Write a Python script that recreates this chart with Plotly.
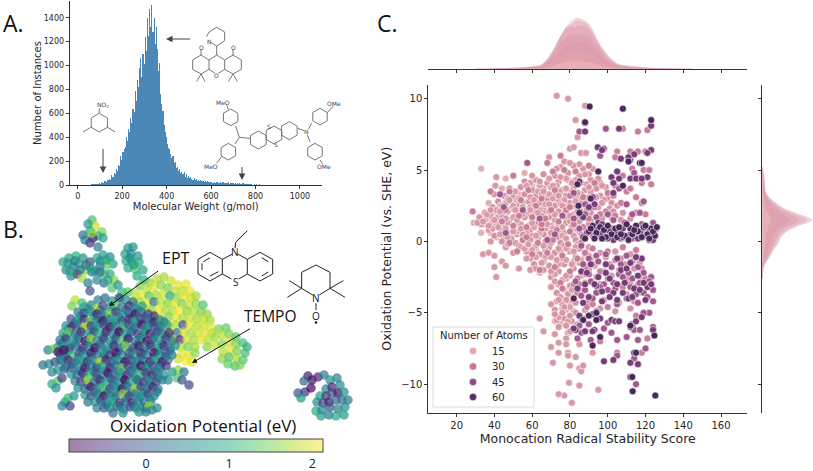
import math
import plotly.graph_objects as go

# ---------- Panel A data ----------
a_counts = [6,7,5,9,8,11,10,14,12,22,18,30,34,25,45,38,52,44,80,70,100,88,135,120,170,160,240,210,280,300,
320,400,370,470,440,560,520,640,610,790,700,880,820,980,1060,900,1100,1010,1240,1120,1400,1250,1470,1320,
1505,1280,1400,1180,1320,1140,950,1020,760,680,620,500,440,400,340,310,300,260,230,240,180,190,140,150,
120,130,100,110,95,105,70,90,60,75,55,65,50,45,55,40,48,36,42,30,38,32,34,28,36,26,30,24,22,28,26,20,
24,18,22,26,18,20,24,16,22,18,14,20,16,22,12,18,14,20,12,16,10,18,12,14,8,12,16,8,10,6,12,7,9,5,8,4,7,3,5,4,3,5,2,4,2,3,2,3,1,2,1,2,1,1,1,1,1,1]
a_xticks = [0,200,400,600,800,1000]
a_yticks = [0,200,400,600,800,1000,1200,1400]

# ---------- Panel B data: map position (page pixels), oxidation potential ----------
b_top = [(92,220,1.2),(95,226,1.9),(90,231,.9),(88,224,.7),(102,232,1.5),(98,236,1.1),(83,235,.2),(85,240,.4),(93,238,-.6),(90,243,-.4),(98,247,.3),(92,233,1.6),(103,238,.8)]
b_upper = [(63,262,.9),(69,258,.8),(76,256,1),(83,258,.6),(90,262,-.2),(66,270,.5),(73,266,.2),(79,264,.9),(86,270,1.5),(92,272,.3),(77,274,-.8),(71,276,.6),(82,278,1.7),(88,283,.4),(97,258,.9),(103,255,.7),(110,257,.5),(113,264,.8),(107,265,1.4),(100,266,.3),(95,271,.6),(104,274,1.1),(110,274,.9),(114,280,1.6),(97,280,.5),(104,283,.2),(112,288,1.3),(118,285,.7),(122,292,1.1),(90,291,-.2),(120,298,1),
(128,248,.7),(133,247,.6),(125,254,.8),(131,254,.5),(138,256,.7),(126,261,.9),(132,262,.7),(139,262,1),(135,269,1.3),(128,268,.9),(143,270,.8),(137,276,.9),(144,280,1),
(68,263,.7),(75,261,.4),(86,265,.1),(70,271,.8),(80,270,.3),(100,261,.6),(106,260,.8),(90,267,.7),(100,272,.2),(108,280,.9),(130,258,.6),(134,265,.8)]
b_green = [(150,283,1.6),(157,279,1.8),(164,277,1.7),(171,281,1.9),(178,285,2),(186,284,2),(140,286,1.5),(147,289,1.8),(154,287,2),(161,285,1.6),(168,288,1.5),(175,291,1.9),(183,291,1.8),(190,291,2),(128,292,1.3),(135,294,1.8),(142,295,2),(149,296,1.3),(156,295,1.7),(163,294,1.9),(170,296,.9),(177,298,1.6),(184,297,2),(191,298,1.9),(196,296,1.7),(133,301,1.9),(140,302,1.7),(147,303,2),(154,302,.2),(161,302,1.8),(168,303,1.6),(175,304,2),(182,304,1.5),(189,305,1.9),(196,304,1.6),(203,305,1.3),(145,309,1.9),(152,310,1.6),(159,309,2),(166,310,1.7),(173,311,1.8),(180,311,2.1),(187,311,1.6),(194,311,1.8),(201,312,1.5),(207,314,1.6),(155,317,1.8),(162,317,1.9),(169,317,1.5),(176,318,2),(183,318,1.7),(190,318,1.9),(197,319,1.7),(204,319,1.9),(210,320,1.7),(162,324,1.7),(169,325,2),(176,325,1.7),(183,325,-.3),(190,325,2),(197,326,1.8),(204,326,1.9),(211,327,2),(170,332,1.8),(177,333,.1),(184,332,1.9),(191,333,1.7),(198,333,1.9),(205,333,2),(212,333,1.8),(219,329,1.5),(226,328,1.4),(173,339,1.7),(180,340,-.6),(187,340,1.9),(194,340,1.7),(201,340,2),(208,340,1.8),(215,337,1.7),(222,335,1.8),(229,334,1.5),(236,337,1.3),(181,347,1.8),(188,347,1.5),(195,347,1.7),(207,347,1.6),(215,345,1.9),(222,344,1.6),(229,342,1.9),(236,344,1.5),(243,343,1.2),(247,347,1),(182,354,2),(189,356,2),(195,353,1.6),(178,359,1.9),(186,361,2.1),(192,362,2),(223,352,1.8),(230,350,2),(237,351,1.5),(245,353,1.2),(222,359,1.6),(229,357,1.3),(236,358,1.7),(243,360,1.3),(228,364,1.4),(235,366,1.3),(240,365,1.5)]
b_main = [(98,300,.4),(105,298,.1),(112,301,.7),(119,298,-.2),(126,300,.5),(133,302,.3),(75,300,1.8),(82,303,1.2),(72,306,1.5),(84,307,.9),(91,305,.3),(97,308,1.7),(103,306,-.3),(110,307,.6),(116,305,1.3),(122,307,.2),(129,306,-.5),(135,308,.4),(142,306,.8),
(78,312,.3),(84,313,-.1),(91,312,.7),(97,314,-.7),(103,313,.3),(110,314,1.6),(116,312,-.4),(122,314,.6),(129,313,.1),(135,314,-.8),(141,312,.2),(148,314,-.3),(154,316,-.5),
(71,319,-.2),(78,320,.6),(84,319,-.6),(90,321,1.4),(97,319,.2),(103,321,-.9),(110,319,.4),(116,320,.8),(122,321,-.2),(129,319,-.6),(135,321,.9),(141,319,-.4),(148,320,.1),(154,322,-.7),(160,320,.5),
(66,326,.5),(72,327,-.7),(78,325,.2),(85,327,1.9),(91,326,-.3),(97,327,.7),(104,325,-.1),(110,327,-.7),(116,326,.4),(123,327,1.1),(129,325,-.2),(135,327,.3),(142,325,-.8),(148,327,.6),(154,326,-.1),(161,327,.2),(167,325,.7),
(63,333,.8),(69,332,1.4),(75,334,.1),(81,332,-.5),(88,334,.6),(94,332,-.1),(100,334,1),(106,332,-.6),(113,334,.2),(119,332,-.9),(125,334,.6),(131,332,.1),(138,334,-.4),(144,332,.5),(150,334,-.7),(157,332,-.2),(163,334,.4),(169,333,-.5),
(60,340,.3),(66,339,-.4),(72,341,.7),(79,339,.1),(85,341,-.8),(91,339,1.7),(97,341,.3),(104,339,-.4),(110,341,.6),(116,339,-.1),(122,341,1.3),(128,339,-.7),(135,341,.1),(141,339,.5),(147,341,-.9),(153,339,.2),(159,341,.6),(166,339,-.3),(172,341,.2),
(58,347,.1),(64,346,.7),(70,348,-.3),(76,346,.3),(83,348,-.6),(89,346,.5),(95,348,-.9),(101,346,.2),(108,348,.7),(114,346,-.5),(120,348,.1),(126,346,1.5),(133,348,-.2),(139,346,-.7),(145,348,.4),(151,346,-.4),(158,348,.8),(164,346,-.6),(170,348,.2),(175,346,.6),
(60,354,-.5),(66,353,.4),(72,355,1.1),(79,353,-.2),(85,355,.6),(91,353,-.8),(98,355,.1),(104,353,.5),(110,355,-.3),(116,353,-.9),(122,355,.4),(129,353,-.1),(135,355,.7),(141,353,-.6),(147,355,.2),(154,353,-.8),(160,355,.5),(166,353,-.1),(172,355,.3),
(62,361,.7),(68,360,-.6),(75,362,.2),(81,360,.8),(87,362,-.4),(93,360,.4),(100,362,1.8),(106,360,-.7),(112,362,.1),(118,360,.6),(125,362,-.9),(131,360,-.2),(137,362,.5),(143,360,.1),(150,362,-.6),(156,360,.9),(162,362,-.8),(168,360,.3),
(66,367,.2),(72,368,-.2),(78,366,.6),(85,368,-.7),(91,366,.3),(97,368,-.1),(103,366,.7),(110,368,-.5),(116,366,.2),(122,368,1.5),(128,366,-.4),(135,368,.3),(141,366,-.8),(147,368,.7),(153,366,-.2),(160,368,.4),(166,366,-.5),
(71,374,.6),(77,375,.1),(83,373,-.6),(89,375,.9),(96,373,-.2),(102,375,.4),(108,373,-.8),(114,375,.1),(121,373,.7),(127,375,-.5),(133,373,.3),(139,375,1.2),(146,373,-.3),(152,375,-.7),(158,373,.3),(164,375,.6),
(75,381,.3),(81,382,-.4),(88,380,1.7),(94,382,.2),(100,380,-.5),(106,382,.6),(113,380,-.1),(119,382,.4),(125,380,-.9),(131,382,.8),(138,380,.1),(144,382,-.4),(150,380,.5),(156,382,-.2),(162,380,.3),
(78,388,.5),(85,389,.1),(91,387,-.7),(97,389,.4),(103,387,1.2),(110,389,-.3),(116,387,.6),(122,389,-.8),(128,387,.2),(135,389,1.7),(141,387,-.3),(147,389,.4),(153,387,-.6),(158,389,.2),
(85,395,.7),(91,396,-.2),(98,394,.3),(104,396,-.9),(110,394,.5),(116,396,.1),(123,394,1.6),(129,396,-.4),(135,394,.3),(141,396,.6),(148,394,-.3),(154,396,.4),
(88,402,.2),(95,402,.7),(101,401,-.2),(107,403,.4),(113,401,.9),(120,403,-.5),(126,401,.3),(132,403,-.7),(138,401,.5),(145,403,.1),(151,401,.6),
(97,408,.4),(104,408,-.1),(110,408,.6),(117,407,.2),(124,409,.5),(130,407,-.2),(136,408,.6),(143,407,.3),(149,406,1.7),(157,408,.5),
(113,413,.2),(123,413,.5),(139,412,.6),(146,412,.3),(152,410,.4)]
b_under = [(88,309,.5),(100,310,.2),(113,310,.6),(126,310,.3),(138,310,.5),(81,316,.7),(94,316,.4),(106,317,.6),(119,317,.1),(132,317,.5),(145,317,.3),(75,323,.2),(88,323,.6),(100,323,.3),(113,323,.5),(126,323,.6),(138,323,.2),(151,323,.4),(164,322,.3),
(69,329,.6),(82,329,.2),(94,329,.7),(107,330,.3),(120,330,.5),(133,330,.2),(146,330,.6),(158,330,.3),(66,336,.3),(78,336,.7),(91,336,.2),(103,337,.6),(116,337,.3),(128,337,.7),(141,337,.2),(154,337,.6),(166,336,.4),(62,343,.2),(75,343,.5),(88,343,.7),(100,344,.2),(113,344,.7),(125,344,.3),(138,344,.6),(150,344,.2),(162,344,.6),
(69,350,.6),(82,351,.2),(94,351,.7),(107,351,.3),(119,351,.5),(132,351,.2),(144,351,.7),(157,351,.3),(170,351,.3),(65,357,.5),(78,358,.3),(90,358,.6),(103,358,.2),(115,358,.6),(128,358,.3),(140,358,.5),(153,358,.6),(165,357,.2),
(72,364,.3),(85,365,.6),(97,365,.2),(110,365,.6),(122,365,.3),(135,365,.2),(147,365,.6),(160,365,.3),(80,371,.2),(93,371,.6),(105,371,.3),(118,371,.2),(130,371,.6),(143,371,.3),(155,371,.6),(85,378,.7),(97,378,.2),(110,378,.5),(122,378,.7),(135,378,.2),(147,378,.5),(158,378,.3),(88,385,.2),(100,385,.6),(113,385,.2),(125,385,.5),(138,385,.6),(150,385,.2),(94,392,.5),(107,392,.3),(119,392,.7),(132,392,.2),(144,392,.4),(157,392,.4),(100,399,.7),(113,399,.4),(126,398,.2),(139,398,.5),(150,399,.3),(107,405,.4),(120,406,.3),(134,406,.7),(146,408,.3)]
b_lobes = [(48,350,.4),(54,349,1.4),(58,352,-.7),(64,350,-.8),(43,365,.2),(49,364,.5),(55,362,-.2),(60,360,.3),(52,372,.4),(58,370,.6),(64,369,.1),(52,384,.9),(58,381,1.3),(62,378,-.4),(56,388,.6),(65,402,.8),(62,406,.5),(68,398,1.1),(70,406,-.4),(74,396,.6),
(178,370,1.6),(184,372,.3),(177,378,1.3),(182,380,-.2),(189,385,-.3),(172,372,.7),(168,380,.5)]
b_island = [(308,376,-.7),(312,380,-.8),(304,381,.1),(318,377,-.6),(324,375,.3),(298,393,-.1),(305,392,-.5),(311,388,-.9),(301,398,.7),(330,380,.6),(337,378,.4),(326,389,.4),(332,387,-.6),(340,385,.5),(320,396,.8),(326,396,-.4),(332,393,-.2),(338,393,-.8),(344,392,.6),(317,402,.5),(323,403,-.3),(329,402,-.7),(336,400,.1),(342,400,.2),(316,411,.9),(322,410,.4),(330,407,-.1),(338,409,.4),(345,407,.6),(321,416,.7),(329,415,.3),(336,416,.9),(344,415,.7),(348,400,.3)]
b_ticks = [0,1,2]
viridis = [(68,1,84),(71,44,122),(59,81,139),(44,113,142),(33,144,141),(39,173,129),(92,200,99),(170,220,50),(253,231,37)]

# ---------- Panel C data: monocation radical stability score, oxidation potential ----------
c_a14 = [(33,5.1),(46,4.4),(56,4.8),(38,.6),(37,2.7),(33,.6),(29,1.3),(35,1.2),(50,2.6),(44,3.7),(41,.3),(53,3.3),(58,2),(60,3.9),(66,-1),(62,-.6),(48,.6),(77,-3.4),(64,-2.2),(80,-4.3),(72,-5.6),(75,-5.8),(78,-4.8),(44,.1),(68,.3)]
c_fill = [(75,5.2),(82,5.3),(87,5.1),(66,4.7),(72,4.6),(79,4.8),(85,4.6),(90,4.7),(56,4.2),(62,4.3),(68,4.1),(74,4.2),(79,4.3),(86,4.1),(91,4.3),(96,4.1),(48,3.7),(54,3.8),(60,3.6),(66,3.7),(70,3.8),(76,3.6),(82,3.8),(88,3.6),(94,3.7),(99,3.8),(45,3.2),(50,3.1),(56,3.3),(62,3.2),(68,3.1),(72,3.3),(78,3.2),(86,3.3),(90,3.1),(96,3.2),(100,3),(42,2.8),(46,2.7),(52,2.9),(58,2.8),(64,2.7),(68,2.9),(74,2.8),(80,2.7),(85,2.9),(91,2.8),(98,2.9),(102,2.7),(39,2.4),(43,2.5),(49,2.3),(53,2.5),(59,2.4),(66,2.3),(72,2.5),(78,2.4),(84,2.3),(90,2.5),(95,2.4),(101,2.3),(105,2.5),(35,2),(40,2.1),(46,1.9),(52,2.1),(57,1.9),(61,2.1),(66,2),(74,2.1),(82,1.9),(86,2.1),(91,2),(98,1.9),(103,2.1),(108,2),(36,1.6),(42,1.7),(48,1.5),(56,1.7),(62,1.5),(70,1.7),(78,1.6),(84,1.7),(91,1.5),(97,1.6),(102,1.7),(107,1.5),(112,1.6),(33,1.2),(39,1.3),(45,1.1),(52,1.3),(58,1.1),(63,1.3),(70,1.1),(78,1.3),(84,1.1),(90,1.2),(37,.8),(43,.9),(50,.7),(59,.8),(67,.9),(75,.7),(83,.9),(40,.4),(45,.3),(52,.5),(60,.4),(66,.5),(74,.3),(82,.4),(87,.3),(44,0),(51,-.1),(59,.1),(67,0),(75,-.1),(83,.1),(46,-.4),(53,-.3),(61,-.5),(69,-.4),(77,-.3),(85,-.5),(90,-.4),(50,-.8),(57,-.7),(64,-.9),(72,-.8),(80,-.7),(88,-.9),(96,-.8),(104,-.7),(112,-.9),(59,-1.2),(67,-1.1),(75,-1.2),(83,-1.1),(91,-1.3),(99,-1.1),(107,-1.2),(115,-1.2),(61,-1.6),(69,-1.7),(77,-1.6),(85,-1.5),(93,-1.7),(101,-1.6),(109,-1.6),(117,-1.5),(66,-2),(74,-2.1),(82,-1.9),(90,-2),(98,-2.1),(106,-2),(114,-1.9),(70,-2.5),(78,-2.6),(86,-2.4),(94,-2.5),(102,-2.4),(110,-2.6),(118,-2.5),(74,-3),(80,-3.1),(88,-2.9),(96,-3),(104,-3.1),(112,-3),(120,-2.9),(73,-3.6),(79,-3.7),(86,-3.5),(94,-3.6),(102,-3.5),(110,-3.7),(118,-3.6),(73,-4.2),(78,-4.1),(83,-4.3),(90,-4.2),(98,-4.1),(106,-4.3),(114,-4.2),(72,-4.8),(76,-4.7),(82,-4.9),(88,-4.8),(96,-4.7),(104,-4.9),(112,-4.7),(73,-5.5),(77,-5.4),(81,-5.6),(86,-5.5),(74,-6),(79,-6.4),(83,-5)]
c_fill2 = [(78,4.4),(69,4.4),(59,4.1),(64,3.9),(73,3.9),(83,4.3),(89,4),(51,3.5),(57,3.9),(63,3.5),(69,3.3),(75,3.5),(81,3.5),(91,3.5),(47,3),(53,3),(59,3.1),(65,3.3),(71,3),(77,2.9),(83,3.1),(93,2.7),(44,2.5),(50,2.5),(55,2.7),(61,2.6),(67,2.6),(75,2.6),(82,2.5),(88,2.8),(41,2.2),(47,2.1),(54,2.2),(59,2.2),(64,2.2),(69,2.1),(77,2),(84,2.1),(38,1.8),(44,1.8),(50,1.7),(55,1.9),(60,1.5),(65,1.8),(72,1.5),(80,1.4),(35,1.5),(41,1.2),(47,1.3),(54,1.2),(61,1),(66,1.3),(74,1.2),(81,1),(39,.9),(46,.9),(53,.7),(57,.6),(64,.6),(71,.9),(77,.6),(85,.7),(43,.5),(49,.2),(56,.2),(63,.2),(69,.2),(76,.4),(84,-.2),(47,-.2),(54,-.4),(62,-.3),(70,-.1),(78,-.5),(56,-.5),(60,-.6),(67,-.6),(75,-.7),(83,-.4),(62,-1.1),(70,-1.1),(78,-1.3),(86,-1.3),(66,-1.4),(74,-1.6),(82,-1.4),(72,-2.3),(80,-2.4),(88,-2.3),(76,-2.7),(84,-3.2),(81,-3.4),(76,-4.4),(80,-4.6),(74,-5.3),(79,-5.6)]
c_a20 = [(41,4.5),(40.5,3.9),(40,3.3),(34,-.9),(37,-.8),(40,-1),(44,-1.4),(40,-1.8),(46,-1.7),(41,-2.5),(38,0),(53,-1.9),(59,-2),(62,-1.9),(32,1.7),(31,1.3),(34,1.4),(36,1.9),(40,1.5),(37,1.1),(42,1),(38,2.2),(43,2.1),(46,1.6),(48,2.9),(51,2.2),(47,.3),(50,.7),(55,.5),
(84,7.3),(83,8.5),(80,6.5),(82,6.6),(86,6.2),(88.5,6.2),(88,9.5),(73,10.2),(79,10),(69,5.9),(77,5.6),(73,5.1),(80,5.5),(85,5.4),(71,3.9),(64,4.2),(60,4.6),(75,4.5),(81,4.1),(88,4.7),(92,5.1),(95,4.4),(66,3.5),(74,3.2),(78,3.7),(84,3.4),(90,3.8),(97,3.9),(61,2.9),(69,2.6),(76,2.5),(83,2.8),(94,3.1),(55,2.4),(63,2),(72,1.9),(80,1.8),(89,2.2),(97,2.7),(52,1.5),(60,1.3),(68,1.2),(76,1),(85,1.4),(54,.9),(62,.4),(70,.6),(78,.2),(86,.5),(58,-.2),(66,-.3),(74,-.5),(82,-.7),(57,-1.2),(65,-1.5),(73,-1.3),(81,-1.6),(90,-1),(70,-2.1),(78,-2.4),(72,-2.8),(70,-3.2),(75,-3.9),(74,-4.1),(70,-4.4),(72,-5.1),(77,-4.6),(64,-5.4),(66,-6.3),(72,-6.5),(78,-6.8),(85,-7.2),(70,-7.4),(74,-7.1),(78,-7.2),(74,-7.8),(79,-7.8),(79,-8),(83,-8.1),(92,-7.8),(71,-8.5),(80,-8.7),(85,-8.9),(86,-9.1),(87,-8.7),(79.5,-9.9),(85,-10.1),(95,-10.4),(81,-11.3),(77,-10.8),(74,-10.7),(80,-6.3),(84,-5.8),(78,-5.9),(82,-3.9),(76,-5),(80,-5.2)]
c_a28 = [(68,5.5),(71,4.9),(77,5),(83,4.9),(90,5.3),(58,3.6),(65,3),(72,3.6),(80,3.2),(87,3.1),(93,4.1),(48,3.5),(54,2.9),(62,2.5),(70,2.2),(78,2.2),(86,2.6),(93,2.4),(100,3.4),(46,2.2),(53,1.8),(60,1.7),(67,1.6),(74,1.4),(82,1.2),(90,1.6),(99,2.1),(44,1.4),(50,1.1),(57,1),(65,.9),(73,.8),(80,.7),(87,1),(48,-.1),(55,.1),(63,-.1),(71,.1),(79,-.2),(86,-.1),(52,-.7),(60,-.9),(68,-.8),(76,-1),(84,-1.2),(92,-.5),(64,-2),(72,-1.8),(80,-2.1),(88,-1.9),(75,-2.9),(82,-3),(76,-3.3),(84,-3.6),(28.5,2.1),(38,3.5),(50,4.6),(75,6),(80,2.4),(65,1.2),(57,.3),(96,1.9),(92,.4),(98,.2),(88,-.8),(104,1.8),(107,2.7),(110,3.5),(103,3.2),(84,-2.6),(92,-1.6),(100,-.7),(108,-.4),(115,-.6),(113,-1.4),(118,-1.9),(104,-1.3),(96,-2.1),(120,-2.6),(116,-3),(108,-3.2),(100,-2.6),(108,7.9),(116,7.7),(121,7.8),(105,6.3),(104,5.9),(112,6.3),(116,6.3),(120,6.3),(113,5.1),(119,5),(122,5),(118,4.1),(123,4),(108,4.6),(104,3.9),(112,3.7),(115,3.1),(118,2.7),(120,1.9),(115,2),(87,-5.4),(89,-4.6),(85,-3),(92,-4.4),(100,-4.6),(96,-7),(105,-7.8),(118,-7.8),(121,-6.8),(115,-5.2)]
c_a40 = [(57.4,5.5),(43,3.3),(45,2.4),(46,.6),(55,2.2),(64,1.6),(72,.5),(76,1.8),(68,.1),(82,1.6),(88,1.9),(94,1.7),(100,1.9),(85,.9),(88,2.6),(82,3.4),(103,1.5),(109,1.3),(113,1.9),(118,1.2),(124,1.3),(99,7.9),(85,7.7),(88,8.3),(98,6.5),(96,6),(112,5.7),(114,4.8),(116,4.4),(106,3.7),(119,2.8),(117,2),(110,2.6),(125,.8),(86,-.3),(94,-1),(102,-1.8),(110,-1),(98,-3),(90,-2.3),(83,-2.8),(86,-3.8),(94,-3.6),(106,-2.3),(113,-2.6),(116,-1.8),(119,-3.6),(123,-2.5),(124,-3.4),(124,-4.2),(122,-5),(119,-5),(116,-4.3),(110,-4),(105,-4.4),(100,-5.7),(94,-4.9),(90,-5.8),(85,-5.9),(84,-6.8),(86,-6.4),(91,-6.9),(98,-6.1),(102,-6.4),(105,-6.9),(110,-6.7),(114,-6.2),(117,-6.2),(120,-7.5),(116,-6.9),(124,-6),(105,-8),(114,-8.2),(115,-10),
(87,-1.6),(91,-2.8),(95,-1.4),(99,-.9),(103,-2.9),(107,-1.6),(111,-2.2),(115,-3.7),(119,-2.2),(88,-3.4),(92,-4),(96,-3.2),(100,-3.4),(104,-3.3),(108,-2.5),(112,-3.2),(117,-2.9),(121,-3.9),(122,-2.8),(90,-1.2),(97,.6),(102,.9),(107,.2),(113,.2),(118,.8),(123,.4)]
c_a52 = [(94.7,6.6),(97,6.4),(106,7.9),(123,8.1),(121,4.5),(123,6.4),(121,6.2),(114,6.1),(111,5.9),(107,5.8),(105,4.9),(102,4.5),(106,4.4),(103,4.1),(112,4.4),(115,4.4),(118,4.4),(103,3.4),(88,7.7),(85,4.2),(93,2.6),(87,1.7),(92,3.1),(95,1.3),(90,2.4),(108,.9),(116,.2),(122,.1),(96,.5),(103,.1),
(84,-3.3),(86,-2.1),(88,-3),(91,-1.6),(95,-2.5),(97,-3.5),(99,-1.6),(101,-2.6),(103,-3.6),(105,-1.2),(107,-2),(109,-2.9),(111,-4),(112,-1.5),(114,-3.3),(116,-2.4),(118,-1.2),(120,-4.1),(87,-4.3),(90,-3.9),(94,-3.1),(97,-4.2),(101,-3.9),(105,-4.1),(108,-3.6),(113,-3.9),(117,-3.4),(121,-3.2),(123,-3),(92,-5.1),(93,-6.2),(85,-5.2),(92,-6.3),(96,-5.4),(102,-5.5),(104,-5.6),(106,-5.6),(112,-6),(113,-5.8),(115,-5.6),(118,-5.3),(124,-6.2),(83,-6.2),(82,-6.1),(88,-6.3),(98,-8.4),(103,-8.3),(112,-8.5),(116,-8.6),(114,-7.8),(112,-9.5),
(89,-2.2),(93,-3),(99,-2.2),(105,-3),(110,-1.9),(115,-1.1),(119,-2.9),(89,.6),(93,.9),(97,1.2),(101,.7),(105,.6),(108,.3),(112,.5),(115,.9),(119,.4),(122,.7),(125,.9),(87,.3),(100,.2),(124,.1)]
c_a64 = [(90.4,9.45),(108,9.3),(88,8.35),(123,8.5),(117,5.5),(95,4.9),(91,3),(84.5,2.5),(85,2),(84,4),(111,5.6),(108,3.9),(118,5.5),(112,.9),(90,.7),(92,1.1),(94,.6),(96,1),(98,.8),(100,1.1),(102,.5),(104,.9),(106,1),(109,.4),(110,1.2),(113,.5),(115,1.1),(117,.6),(119,1),(121,.5),(123,.9),(125,.4),(88,.2),(93,.2),(99,.3),(105,.3),(111,.1),(116,.7),(120,1.1),(122,.2),(124,.7),(126,1),(91,.9),(97,.2),(107,.5),(114,.8),(118,.3),
(82,-4),(90,-5.2),(94,-5),(87,-5.5),(96,-6.7),(94,-5.5),(124.7,-6.6),(125.2,-10.8),(113.2,-10.5),(113,-9.5),(115,-7.8),(92,-7.3),(112,-5.9)]
c_levels = [14,22,19,20,28,40,52,64]
c_legend_atoms = [15,30,45,60]
c_legend_labels = ["15","30","45","60"]
c_xticks = [20,40,60,80,100,120,140,160]
c_yticks = [-10,-5,0,5,10]
cube = [[0,'#edd1cb'],[.18,'#e2a9ae'],[.38,'#c57a98'],[.58,'#955088'],[.8,'#5f2f6c'],[1,'#2d1e3e']]

# marginal densities
top_x = [30,40,50,55,60,65,70,72,74,76,78,80,82,84,86,88,90,92,94,96,98,100,105,110,115,120,130,145]
top_1 = [0,.01,.02,.03,.05,.09,.3,.43,.58,.7,.82,.9,.96,1,.97,.94,.88,.76,.6,.47,.37,.27,.11,.07,.05,.03,.01,0]
top_2 = [0,.01,.02,.03,.05,.08,.29,.42,.56,.7,.81,.85,.9,.94,.92,.9,.83,.71,.58,.45,.34,.25,.1,.06,.04,.02,.01,0]
top_3 = [0,.01,.02,.03,.04,.08,.27,.4,.55,.68,.78,.82,.8,.84,.85,.83,.78,.67,.55,.42,.31,.22,.09,.05,.04,.02,.01,0]
top_4 = [0,0,.02,.02,.04,.07,.23,.34,.47,.56,.62,.66,.68,.66,.7,.66,.62,.56,.45,.35,.26,.18,.08,.05,.03,.02,.01,0]
top_5 = [0,0,.01,.02,.03,.06,.18,.26,.35,.43,.48,.5,.53,.54,.52,.5,.47,.42,.34,.27,.2,.14,.06,.03,.02,.01,0,0]
top_6 = [0,0,.01,.01,.02,.04,.12,.17,.23,.27,.31,.33,.34,.35,.34,.32,.3,.26,.22,.17,.13,.09,.04,.02,.01,.01,0,0]
top_7 = [0,0,0,.01,.01,.02,.06,.08,.11,.13,.15,.16,.17,.17,.16,.15,.14,.13,.1,.08,.06,.04,.02,.01,.01,0,0,0]
right_y = [5.2,5,4.3,3.36,2.67,2.3,2.07,1.85,1.72,1.6,1.5,1.35,1.14,.79,.32,-.13,-.6,-1.08,-1.78,-2.6]
right_1 = [0,.01,.04,.08,.28,.44,.6,.78,.89,.97,1,.93,.75,.53,.38,.32,.22,.15,.02,0]
right_2 = [0,.01,.03,.07,.25,.4,.54,.7,.8,.87,.9,.84,.68,.48,.34,.29,.2,.13,.02,0]
right_3 = [0,.01,.03,.06,.21,.33,.45,.58,.67,.73,.75,.7,.56,.4,.29,.24,.17,.11,.02,0]
right_4 = [0,0,.02,.05,.16,.25,.34,.44,.5,.54,.56,.52,.42,.3,.22,.18,.13,.08,.01,0]
right_5 = [0,0,.01,.03,.1,.16,.22,.28,.32,.35,.36,.34,.27,.2,.14,.12,.08,.05,.01,0]
right_6 = [0,0,.01,.02,.05,.08,.11,.14,.16,.17,.18,.17,.14,.1,.07,.06,.04,.03,0,0]

W, H = 813, 471
def dx(a, b): return [a / W, b / W]
def dy(top, bottom): return [1 - bottom / H, 1 - top / H]

fig = go.Figure()
TXT = '#262626'
SANS = 'DejaVu Sans'

# Panel A
fig.add_trace(go.Bar(x=[62.5 + 5 * i for i in range(len(a_counts))], y=a_counts, width=5,
                     marker=dict(color='rgba(45,115,170,0.85)', line=dict(width=0)), xaxis='x', yaxis='y', showlegend=False))

# Overlay for panel B, structures and legend
OV = dict(xaxis='x5', yaxis='y5', showlegend=False, hoverinfo='skip')
b_scale = [[i / 8, 'rgba(%d,%d,%d,0.7)' % c] for i, c in enumerate(viridis)]
bar_scale = [[i / 8, 'rgba(%d,%d,%d,0.5)' % c] for i, c in enumerate(viridis)]
b_all = b_top + b_upper + b_green + b_under + b_main + b_lobes + b_island
fig.add_trace(go.Scatter(x=[p[0] for p in b_all], y=[p[1] for p in b_all], mode='markers',
    marker=dict(size=9.5, color=[p[2] for p in b_all], colorscale=b_scale, cmin=-.93, cmax=2.13, line=dict(width=0)), **OV))
fig.add_trace(go.Scatter(x=[None], y=[None], mode='markers',
    marker=dict(size=1, color=[0], colorscale=bar_scale, cmin=-.93, cmax=2.13, showscale=True,
        colorbar=dict(orientation='h', x=196/W, xanchor='center', y=1-439/H, yanchor='top', lenmode='pixels', len=254,
                      thickness=13, xpad=0, ypad=0, tickvals=b_ticks, ticks='', tickfont=dict(size=12.5, color='#222', family='Open Sans'),
                      outlinecolor='#444', outlinewidth=1)), **OV))

# Panel C marginals
fill_cols = ['rgba(222,155,172,.4)', 'rgba(222,155,172,.4)', 'rgba(220,150,168,.42)', 'rgba(220,150,168,.45)', 'rgba(220,150,166,.48)', 'rgba(226,165,174,.5)', 'rgba(236,190,185,.55)']
line_c = 'rgba(225,170,182,.6)'
for c, yy in zip(fill_cols, [top_1, top_2, top_3, top_4, top_5, top_6, top_7]):
    fig.add_trace(go.Scatter(x=top_x, y=yy, mode='lines', fill='tozeroy', fillcolor=c, line=dict(color=line_c, width=.6, shape='spline'),
                             xaxis='x3', yaxis='y3', showlegend=False))
for c, xx in zip(fill_cols[1:], [right_1, right_2, right_3, right_4, right_5, right_6]):
    fig.add_trace(go.Scatter(x=xx, y=right_y, mode='lines', fill='tozerox', fillcolor=c, line=dict(color=line_c, width=.6, shape='spline'),
                             xaxis='x4', yaxis='y4', showlegend=False))

# Panel C scatter
cx, cy, cc = [], [], []
for lev, pts in zip(c_levels, [c_a14, c_fill, c_fill2, c_a20, c_a28, c_a40, c_a52, c_a64]):
    cx += [p[0] for p in pts]; cy += [p[1] for p in pts]; cc += [lev] * len(pts)
fig.add_trace(go.Scatter(x=cx, y=cy, mode='markers', xaxis='x2', yaxis='y2', showlegend=False,
    marker=dict(size=7, color=cc, colorscale=cube, cmin=3, cmax=72, line=dict(color='white', width=.6))))

# Molecule drawing
def hexa(cx, cy, r):
    pts = [(cx + r * math.sin(math.radians(60 * i)), cy - r * math.cos(math.radians(60 * i))) for i in range(7)]
    return pts
def draw(paths, ox, oy, color, width):
    xs, ys = [], []
    for p in paths:
        for a, b in p:
            xs.append(ox + a / 3); ys.append(oy + b / 3)
        xs.append(None); ys.append(None)
    fig.add_trace(go.Scatter(x=xs, y=ys, mode='lines', line=dict(color=color, width=width), **OV))

mol_a1 = [[(650,82),(674,96),(674,122),(650,138),(634,128)], [(620,110),(627,96),(650,82)], [(650,138),(650,165),(674,180),(674,208),(655,220)], [(645,220),(627,208),(627,180),(650,165)],
          [(627,180),(603,165),(578,180),(578,208),(603,222),(627,208)], [(674,180),(699,165),(724,180),(724,208),(699,222),(674,208)],
          [(603,165),(603,148)], [(699,165),(699,148)], [(603,222),(590,245)], [(603,222),(615,245)], [(699,222),(685,245)], [(699,222),(712,245)]]
mol_a2 = [hexa(298,368,28), [(298,340),(298,325)], [(322,382),(346,396)], [(273,382),(249,396)]]
mol_a3 = [hexa(692,352,25), [(685,328),(680,316)], hexa(685,455,25), [(665,470),(650,490)], [(707,378),(718,412),(750,415)], [(718,412),(705,432)],
          hexa(775,420,27), hexa(822,405,27), hexa(868,392,27), [(893,385),(912,392)], [(925,388),(935,370)], [(922,405),(930,425)],
          hexa(960,350,25), [(982,338),(1000,318)], hexa(945,455,25), [(960,480),(968,492)]]
for m in (mol_a1, mol_a2, mol_a3):
    draw(m, 0, 0, '#666', .9)
mol_b1 = [[(697,132),(667,148),(667,192),(630,213),(594,192),(594,148),(630,127),(667,148)], [(610,155),(630,143)], [(606,180),(606,160)], [(630,198),(655,185)],
          [(713,132),(742,148),(742,192),(716,207)], [(694,207),(667,192)], [(742,148),(780,127),(818,148),(818,192),(780,213),(742,192)], [(785,143),(805,155)], [(785,198),(805,186)],
          [(705,115),(707,97),(742,62)]]
mol_b2 = [[(948,165),(990,187),(990,235),(958,255)], [(938,255),(905,235),(905,187),(948,165)], [(905,235),(862,262)], [(905,235),(868,212)], [(990,235),(1035,262)], [(990,235),(1030,212)], [(948,280),(948,300)]]
draw(mol_b1, 0, 210, '#222', 1)
draw(mol_b2, 0, 210, '#222', 1)
fig.add_trace(go.Scatter(x=[316], y=[322.5], mode='markers', marker=dict(size=2.5, color='#111'), **OV))

# Legend of panel C
lg_x, lg_y = [473] * 4, [351, 366.5, 382, 397]
fig.add_trace(go.Scatter(x=[433,534,534,433,433], y=[327,327,407,407,327], mode='lines', fill='toself', fillcolor='rgba(255,255,255,.85)', line=dict(color='#dcdcdc', width=1), **OV))
fig.add_trace(go.Scatter(x=lg_x, y=lg_y, mode='markers', marker=dict(size=7.5, color=c_legend_atoms, colorscale=cube, cmin=3, cmax=72, line=dict(color='white', width=.6)), **OV))

anns = []
def txt(x, y, s, size, font=SANS, color=TXT, anchor='center'):
    anns.append(dict(x=x, y=y, xref='x5', yref='y5', text=s, showarrow=False, xanchor=anchor, yanchor='middle', font=dict(size=size, family=font, color=color)))
def arrow(x0, y0, x1, y1, width=1, color='#222', size=1):
    anns.append(dict(x=x1, y=y1, ax=x0, ay=y0, xref='x5', yref='y5', axref='x5', ayref='y5', text=' ', showarrow=True, arrowhead=2, arrowsize=size, arrowwidth=width, arrowcolor=color))
HF = 'Open Sans'
txt(1, 23, 'A.', 23, HF, '#111', 'left'); txt(1, 229, 'B.', 23, HF, '#111', 'left'); txt(375, 23, 'C.', 23, HF, '#111', 'left')
txt(176, 258, 'EPT', 16, HF, '#111'); txt(270, 316, 'TEMPO', 15.5, HF, '#111'); txt(203, 425, 'Oxidation Potential (eV)', 17, HF, '#111')
arrow(193, 39, 166, 39, 1, '#444', 1.3); arrow(103, 139, 103, 173, 1, '#444', 1.3); arrow(242, 157, 242, 180, 1, '#444', 1.3)
arrow(161, 269, 109, 306, 1, '#111', 1); arrow(253, 327, 192, 363, 1, '#111', 1)
for x, y, s in [(627,125,'N'),(650,225,'O'),(603,142,'O'),(699,142,'O')]:
    txt(x/3, y/3, s, 6, SANS, '#444')
for x, y, s in [(308,315,'NO<sub>2</sub>'),(668,308,'MeO'),(633,500,'MeO'),(808,380,'S'),(828,432,'S'),(918,395,'N'),(1003,310,'OMe'),(973,500,'OMe')]:
    txt(x/3, y/3, s, 6, SANS, '#444')
for x, y, s in [(705,127,'N'),(705,217,'S'),(948,265,'N'),(948,318,'O')]:
    txt(x/3, 210+y/3, s, 10, HF, '#111')
txt(438, 335, 'Number of Atoms', 10, SANS, TXT, 'left')
for y, s in zip(lg_y, c_legend_labels):
    txt(498, y, s, 10, SANS, TXT)

def axis(dom, rng, **kw):
    base = dict(domain=dom, range=rng, showgrid=False, zeroline=False, showline=True, linecolor='#333', linewidth=1,
                ticks='outside', ticklen=3, tickcolor='#333', tickwidth=1, tickfont=dict(size=8, family=SANS, color=TXT))
    base.update(kw)
    return base
c_xr, c_yr = [5, 173.9], [-12, 10.98]
ttl = lambda s, size, st: dict(text=s, font=dict(size=size, family=SANS, color=TXT), standoff=st)
fig.update_layout(
    width=W, height=H, margin=dict(l=0, r=0, t=0, b=0, autoexpand=False), paper_bgcolor='white', plot_bgcolor='rgba(0,0,0,0)',
    bargap=0, annotations=anns,
    xaxis=axis(dx(69.7,321.7), [-36,1098], anchor='y', tickvals=a_xticks, title=ttl('Molecular Weight (g/mol)', 10, 2)),
    yaxis=axis(dy(1,185), [0,1540], anchor='x', tickvals=a_yticks, title=ttl('Number of Instances', 10, 0)),
    xaxis2=axis(dx(428.3,747.3), c_xr, anchor='y2', tickvals=c_xticks, tickfont=dict(size=10, family=SANS, color=TXT), title=ttl('Monocation Radical Stability Score', 12.5, 4)),
    yaxis2=axis(dy(84.7,412.7), c_yr, anchor='x2', tickvals=c_yticks, tickfont=dict(size=10, family=SANS, color=TXT), title=ttl('Oxidation Potential (vs. SHE, eV)', 12.5, 6)),
    xaxis3=axis(dx(428.3,747.3), c_xr, anchor='y3', tickvals=c_xticks, showticklabels=False),
    yaxis3=dict(domain=dy(18,69.3), range=[0,1], anchor='x3', visible=False),
    xaxis4=dict(domain=dx(762.3,811.7), range=[0,1], anchor='y4', visible=False),
    yaxis4=axis(dy(84.7,412.7), c_yr, anchor='x4', tickvals=c_yticks, showticklabels=False),
    xaxis5=dict(domain=[0,1], range=[0,W], anchor='y5', visible=False, fixedrange=True),
    yaxis5=dict(domain=[0,1], range=[H,0], anchor='x5', visible=False, fixedrange=True),
)
fig.write_html("out.html", post_script="document.body.style.margin='0';", config=dict(displayModeBar=False))
